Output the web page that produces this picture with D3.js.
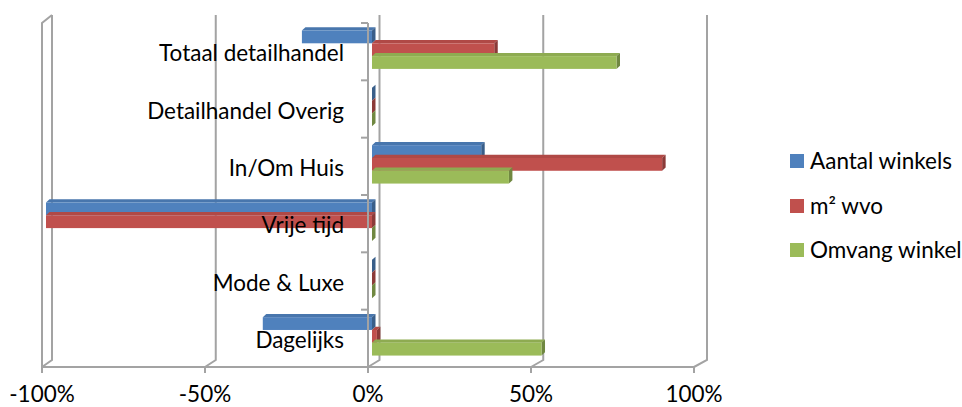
<!DOCTYPE html>
<html><head><meta charset="utf-8">
<script src="https://cdn.jsdelivr.net/npm/d3@7"></script>
<style>body{margin:0;background:#fff}svg{display:block}</style>
</head><body>
<svg id="c" width="962" height="407"></svg>
<script>
const categories = ["Totaal detailhandel","Detailhandel Overig","In/Om Huis","Vrije tijd","Mode & Luxe","Dagelijks"];
const seriesNames = ["Aantal winkels","m² wvo","Omvang winkel"];
const aantalWinkels = [-0.215, 0, 0.335, -1.0, 0, -0.335];
const m2Wvo = [0.375, 0, 0.89, -1.0, 0, 0.015];
const omvangWinkel = [0.75, 0, 0.42, 0, 0, 0.52];
const tickValues = [-1, -0.5, 0, 0.5, 1];
const tickLabels = ["-100%", "-50%", "0%", "50%", "100%"];
const colors = ["#4F81BD", "#C0504D", "#9BBB59"];

const seriesValues = [aantalWinkels, m2Wvo, omvangWinkel];
const svg = d3.select("#c");
const FONT = "Lato, 'Open Sans', sans-serif";

// front plane and back plane scales (3D look)
const x = d3.scaleLinear().domain([-1, 1]).range([42, 694]);
const xb = d3.scaleLinear().domain([-1, 1]).range([52, 707]);
const y = d3.scaleBand().domain(categories).range([23, 367]);
const yTopBack = 15, yBotBack = 360, yTopFront = 23, yBotFront = 367;
const grid = "#a3a3a3";

// back wall gridlines + floor diagonals
const g0 = svg.append("g").attr("fill", "none").attr("stroke", grid).attr("stroke-width", 2);
tickValues.forEach(v => {
  g0.append("path").attr("d",
    `M${xb(v)},${yTopBack} L${xb(v)},${yBotBack} L${x(v)},${yBotFront}`);
});
// left side wall front edge
g0.append("path").attr("d",
  `M${xb(-1)},${yTopBack} L${x(-1)},${yTopFront} L${x(-1)},${yBotFront + 6}`);
// floor front edge with ticks
g0.append("line").attr("x1", x(-1)).attr("x2", x(1)).attr("y1", yBotFront).attr("y2", yBotFront);
tickValues.forEach(v => {
  g0.append("line").attr("x1", x(v)).attr("x2", x(v)).attr("y1", yBotFront).attr("y2", yBotFront + 6);
});

// bars
const barH = 12.8, barOff = 7.5, dx = 3.5, dy = 3.2, shift = 4;
const bars = svg.append("g");
categories.forEach((c, ci) => {
  seriesValues.forEach((vals, si) => {
    const v = vals[ci];
    const xa = Math.min(x(0), x(v)) + shift;
    const xe = Math.max(x(0), x(v)) + shift;
    const yt = y(c) + barOff + si * barH;
    const col = d3.color(colors[si]);
    // top face
    bars.append("path")
      .attr("d", `M${xa},${yt} L${xa + dx},${yt - dy} L${xe + dx},${yt - dy} L${xe},${yt} Z`)
      .attr("fill", col.darker(0.25));
    // right side face
    bars.append("path")
      .attr("d", `M${xe},${yt} L${xe + dx},${yt - dy} L${xe + dx},${yt + barH - dy} L${xe},${yt + barH} Z`)
      .attr("fill", col.darker(0.9));
    // front face
    bars.append("rect").attr("x", xa).attr("y", yt).attr("width", xe - xa).attr("height", barH)
      .attr("fill", colors[si]);
  });
});

// category axis (front, at 0%)
const g1 = svg.append("g").attr("fill", "none").attr("stroke", grid).attr("stroke-width", 2);
g1.append("line").attr("x1", x(0)).attr("x2", x(0)).attr("y1", yTopFront).attr("y2", yBotFront + 6);
const bounds = categories.map(c => y(c)).concat([y.range()[1]]);
bounds.forEach(b => {
  g1.append("line").attr("x1", x(0) - 7).attr("x2", x(0)).attr("y1", b).attr("y2", b);
});

// fit font size to reference width
const probe = svg.append("text").attr("font-family", FONT).attr("font-size", 20).text("Totaal detailhandel");
const w20 = probe.node().getComputedTextLength();
probe.remove();
const fs = 20 * 185 / w20;

// category labels
svg.append("g").selectAll("text").data(categories).join("text")
  .attr("x", 344).attr("y", c => y(c) + y.bandwidth() / 2 + 1.5 + fs * 0.36)
  .attr("text-anchor", "end").attr("font-family", FONT).attr("font-size", fs).attr("fill", "#000")
  .text(c => c);

// value tick labels
svg.append("g").selectAll("text").data(tickValues).join("text")
  .attr("x", v => x(v)).attr("y", 402)
  .attr("text-anchor", "middle").attr("font-family", FONT).attr("font-size", fs).attr("fill", "#000")
  .text((v, i) => tickLabels[i]);

// legend
const lg = svg.append("g");
const ly = [161, 206, 250];
seriesNames.forEach((n, i) => {
  lg.append("rect").attr("x", 790).attr("y", ly[i] - 7).attr("width", 14).attr("height", 14).attr("fill", colors[i]);
  lg.append("text").attr("x", 810).attr("y", ly[i] + fs * 0.36).attr("font-family", FONT)
    .attr("font-size", fs).attr("fill", "#000").text(n);
});
</script>
</body></html>
